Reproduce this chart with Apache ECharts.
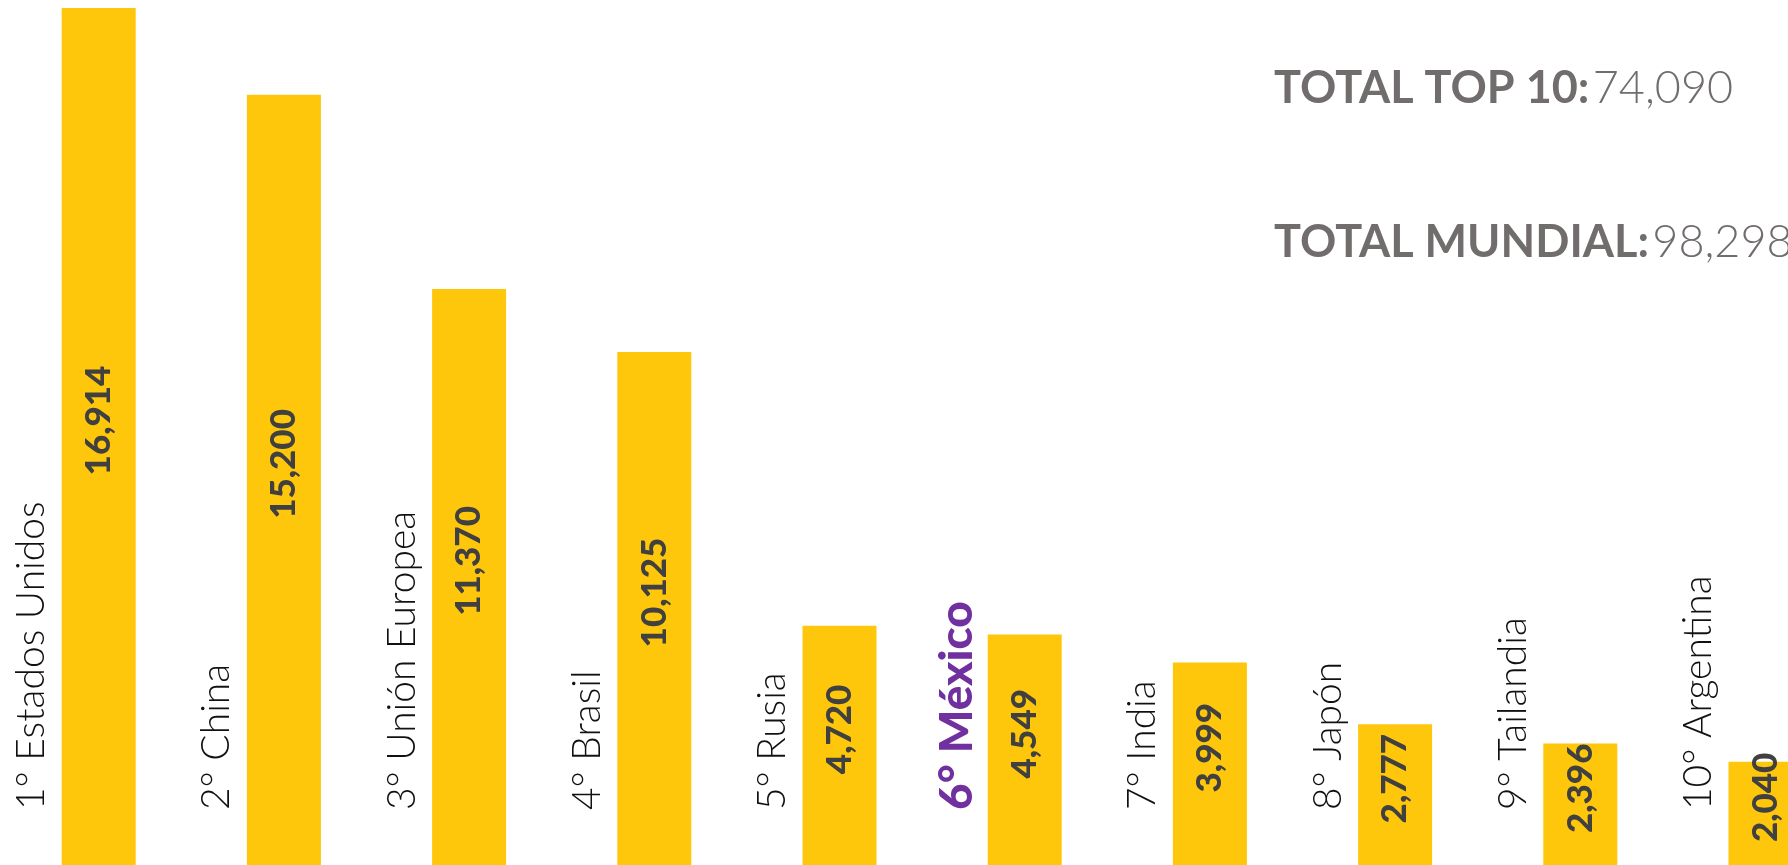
<!DOCTYPE html>
<head>
    <meta charset="utf-8">
    <title>ECharts</title>
</head>
<body style="margin:0;background:#fff">
    <script src="https://cdn.jsdelivr.net/npm/echarts@6/dist/echarts.min.js"></script>
    <div id="main" style="width:1788px;height:865px"></div>
    <script type="text/javascript">
    // datos
    var paises = ['1° Estados Unidos', '2° China', '3° Unión Europea', '4° Brasil', '5° Rusia',
                  '6° México', '7° India', '8° Japón', '9° Tailandia', '10° Argentina'];
    var valores = [16914, 15200, 11370, 10125, 4720, 4549, 3999, 2777, 2396, 2040];
    var destacado = '6° México';
    var totales = [
        ['TOTAL TOP 10:', '74,090'],
        ['TOTAL MUNDIAL:', '98,298']
    ];

    var amarillo = '#FEC70B';
    var morado = '#7030A0';
    var gris = '#716d6c';

    function miles(v) {
        return String(v).replace(/\B(?=(\d{3})+(?!\d))/g, ',');
    }

    // la etiqueta de México va resaltada
    var etiquetas = paises.map(function (p) {
        if (p === destacado) {
            return { value: p, textStyle: { color: morado, fontWeight: 900, fontSize: 46 } };
        }
        return p;
    });

    var myChart = echarts.init(document.getElementById('main'));
    myChart.setOption({
        animation: false,
        grid: [
            { left: 98.7, right: 22.5, top: 8, bottom: 0 },
            { left: 31.6, width: 1666.8, top: 8, bottom: 0 }
        ],
        xAxis: [
            {
                gridIndex: 0, type: 'category', data: paises, boundaryGap: false,
                axisLine: { show: false }, axisTick: { show: false }, axisLabel: { show: false }
            },
            {
                gridIndex: 1, type: 'category', data: etiquetas, boundaryGap: false,
                axisLine: { show: false }, axisTick: { show: false }, splitLine: { show: false },
                axisLabel: {
                    inside: true, rotate: 90, margin: 55, interval: 0,
                    fontFamily: 'Lato', fontWeight: 300, fontSize: 39, color: '#111'
                }
            }
        ],
        yAxis: [
            { gridIndex: 0, type: 'value', min: 0, max: 'dataMax', show: false, splitLine: { show: false } },
            { gridIndex: 1, type: 'value', min: 0, max: 1, show: false, splitLine: { show: false } }
        ],
        graphic: totales.map(function (t, i) {
            return {
                type: 'text', left: 1274, top: 66 + i * 154,
                style: {
                    text: '{b|' + t[0] + '} {n|' + t[1] + '}',
                    rich: {
                        b: { fontFamily: 'Lato', fontWeight: 'bold', fontSize: 45, fill: gris, color: gris },
                        n: { fontFamily: 'Lato', fontWeight: 300, fontSize: 45, fill: gris, color: gris }
                    }
                }
            };
        }),
        series: [
            {
                name: 'ventas',
                type: 'bar',
                xAxisIndex: 0, yAxisIndex: 0,
                barWidth: 74,
                clip: false,
                itemStyle: { color: amarillo },
                label: {
                    show: true, position: 'inside', rotate: 90, offset: [16, 0],
                    fontFamily: 'Lato', fontWeight: 900, fontSize: 35, color: '#404040',
                    formatter: function (p) { return miles(p.value); }
                },
                data: valores
            }
        ]
    });
    </script>
</body>
